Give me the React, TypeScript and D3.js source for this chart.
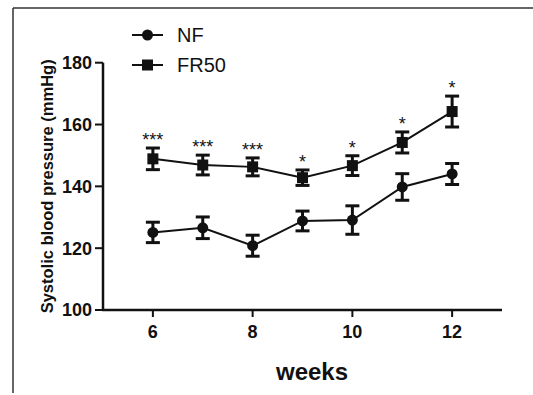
import { useMemo } from "react";
import * as d3 from "d3";

const width = 533;
const height = 395;

const weeks = [6, 7, 8, 9, 10, 11, 12];
const nfMean = [125.1, 126.6, 120.8, 128.8, 129.1, 139.8, 144.0];
const nfSem = [3.3, 3.5, 3.4, 3.2, 4.6, 4.3, 3.4];
const frMean = [148.9, 146.9, 146.3, 142.8, 146.7, 154.2, 164.2];
const frSem = [3.5, 3.2, 2.9, 2.5, 3.2, 3.4, 5.0];
const stars = ["***", "***", "***", "*", "*", "*", "*"];
const xTicks = [6, 8, 10, 12];
const yTicks = [100, 120, 140, 160, 180];

const FONT = "'Liberation Sans', Arial, sans-serif";
const INK = "#111";

const margin = { left: 103, right: 31, top: 62.7, bottom: 85 };

export default function App() {
  const x = useMemo(
    () => d3.scaleLinear().domain([5, 13]).range([margin.left, width - margin.right]),
    []
  );
  const y = useMemo(
    () => d3.scaleLinear().domain([100, 180]).range([height - margin.bottom, margin.top]),
    []
  );

  const line = d3
    .line<number>()
    .x((_, i) => x(weeks[i]))
    .y((d) => y(d));

  const errorBars = (means: number[], sems: number[]) =>
    means.map((m, i) => {
      const cx = x(weeks[i]);
      const top = y(m + sems[i]);
      const bot = y(m - sems[i]);
      return (
        <g key={i} stroke={INK} strokeWidth={3}>
          <line x1={cx} x2={cx} y1={top} y2={bot} />
          <line x1={cx - 7} x2={cx + 7} y1={top} y2={top} />
          <line x1={cx - 7} x2={cx + 7} y1={bot} y2={bot} />
        </g>
      );
    });

  const x0 = x.range()[0];
  const y0 = y.range()[0];

  return (
    <svg
      width={width}
      height={height}
      style={{ position: "absolute", left: 0, top: 0, background: "#fff" }}
      fontFamily={FONT}
    >
      {/* frame */}
      <line x1={13} x2={width} y1={8} y2={8} stroke="#333" strokeWidth={1.5} />
      <line x1={13} x2={13} y1={8} y2={393} stroke="#333" strokeWidth={1.5} />

      {/* y axis */}
      <line x1={x0} x2={x0} y1={y(180)} y2={y0 + 1} stroke={INK} strokeWidth={2.5} />
      {yTicks.map((t) => (
        <g key={t}>
          <line x1={x0 - 8} x2={x0} y1={y(t)} y2={y(t)} stroke={INK} strokeWidth={2} />
          <text
            x={x0 - 11}
            y={y(t)}
            dy="0.36em"
            textAnchor="end"
            fontSize={18}
            fontWeight={700}
            fill={INK}
          >
            {t}
          </text>
        </g>
      ))}

      {/* x axis */}
      <line x1={x0 - 1} x2={x.range()[1]} y1={y0} y2={y0} stroke={INK} strokeWidth={2.5} />
      {xTicks.map((t) => (
        <g key={t}>
          <line x1={x(t)} x2={x(t)} y1={y0} y2={y0 + 7} stroke={INK} strokeWidth={2} />
          <text x={x(t)} y={337.5} textAnchor="middle" fontSize={18} fontWeight={700} fill={INK}>
            {t}
          </text>
        </g>
      ))}

      <text x={312} y={380} textAnchor="middle" fontSize={24} fontWeight={700} fill={INK}>
        weeks
      </text>
      <text
        transform={`translate(53, ${(y(180) + y0) / 2}) rotate(-90)`}
        textAnchor="middle"
        fontSize={16.5}
        fontWeight={700}
        fill={INK}
      >
        Systolic blood pressure (mmHg)
      </text>

      {/* legend */}
      <line x1={132} x2={163} y1={35} y2={35} stroke={INK} strokeWidth={2} />
      <circle cx={147.5} cy={35} r={5.5} fill={INK} />
      <text x={177} y={42} fontSize={20} fill={INK}>
        NF
      </text>
      <line x1={132} x2={163} y1={65} y2={65} stroke={INK} strokeWidth={2} />
      <rect x={142} y={59.5} width={11} height={11} fill={INK} />
      <text x={177} y={72} fontSize={20} fill={INK}>
        FR50
      </text>

      {/* NF series */}
      <path d={line(nfMean) ?? ""} fill="none" stroke={INK} strokeWidth={2} />
      {errorBars(nfMean, nfSem)}
      {nfMean.map((m, i) => (
        <circle key={i} cx={x(weeks[i])} cy={y(m)} r={5.5} fill={INK} />
      ))}

      {/* FR50 series */}
      <path d={line(frMean) ?? ""} fill="none" stroke={INK} strokeWidth={2} />
      {errorBars(frMean, frSem)}
      {frMean.map((m, i) => (
        <rect key={i} x={x(weeks[i]) - 5.5} y={y(m) - 5.5} width={11} height={11} fill={INK} />
      ))}

      {/* significance */}
      {stars.map((s, i) => (
        <text
          key={i}
          x={x(weeks[i])}
          y={y(frMean[i] + frSem[i]) - 2}
          textAnchor="middle"
          fontSize={18}
          fill={INK}
        >
          {s}
        </text>
      ))}
    </svg>
  );
}
